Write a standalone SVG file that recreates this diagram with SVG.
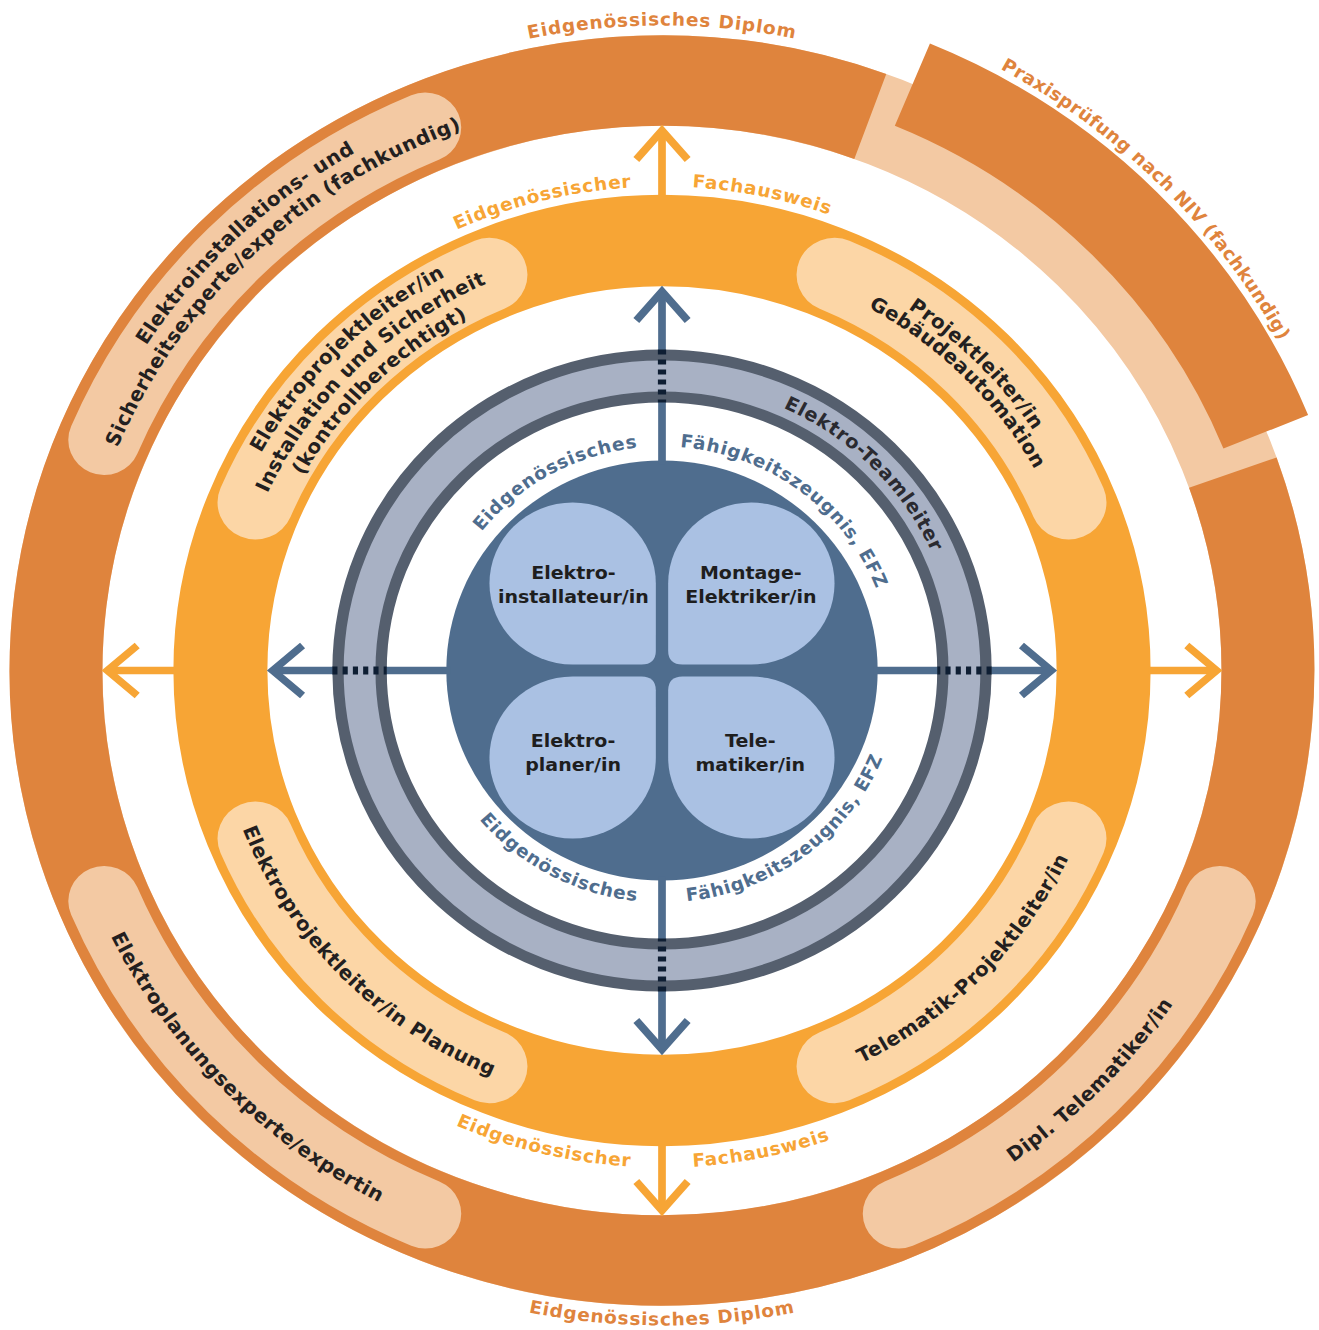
<svg xmlns="http://www.w3.org/2000/svg" xmlns:xlink="http://www.w3.org/1999/xlink" width="1319" height="1330" viewBox="0 0 1319 1330">
<style>
.t{font-family:"DejaVu Sans","Liberation Sans",sans-serif;font-weight:bold}
.pill{font-size:19.5px;fill:#231F20;letter-spacing:0.5px}
.lobe{font-size:18.5px;fill:#1E1E1E;text-anchor:middle}
.orng{font-size:18px;fill:#DF843D;letter-spacing:0.8px}
.prax{font-size:18px;fill:#DF843D;letter-spacing:0.4px}
.yorng{font-size:18px;fill:#F7A535;letter-spacing:0.8px}
.blu{font-size:18px;fill:#4F6D8E;letter-spacing:0.8px}
.team{font-size:19px;fill:#2A2A30;letter-spacing:0.8px}
.mid{text-anchor:middle}
.end{text-anchor:end}
.pillO{fill:none;stroke:#F3C9A3;stroke-width:70;stroke-linecap:round}
.pillY{fill:none;stroke:#FCD6A6;stroke-width:74;stroke-linecap:round}
.oarr{fill:none;stroke:#F7A535;stroke-width:7.5}
.barr{fill:none;stroke:#4F6D8E;stroke-width:7.5}
.dash{fill:none;stroke:#0E1E33;stroke-width:8;stroke-dasharray:5 5}
.lobeS{fill:#AAC1E3}
</style>
<defs>
<path id="lobeP" d="M -168 -87 A 81 81 0 0 1 -87 -168 A 81 81 0 0 1 -6 -87 L -6 -20 Q -6 -6 -20 -6 L -87 -6 A 81 81 0 0 1 -168 -87 Z"/>
<path id="tOuterTop" d="M -558.6 -322.5 A 645 645 0 0 1 558.6 -322.5"/>
<path id="tOuterBot" d="M -567.2 327.5 A 655 655 0 0 0 567.2 327.5"/>
<path id="tPraxis" d="M -177.5 -662.6 A 686 686 0 0 1 662.6 177.5"/>
<path id="tFachTL" d="M -484 0 A 484 484 0 0 1 -29.5 -483.1"/>
<path id="tFachTR" d="M 29.5 -483.1 A 484 484 0 0 1 484 0"/>
<path id="tFachBL" d="M -497 0 A 497 497 0 0 0 -30.3 496.1"/>
<path id="tFachBR" d="M 30.3 496.1 A 497 497 0 0 0 497 0"/>
<path id="tEfzTL" d="M -224 0 A 224 224 0 0 1 -23.4 -222.8"/>
<path id="tEfzTR" d="M 17.6 -223.3 A 224 224 0 0 1 220.6 38.9"/>
<path id="tEfzBL" d="M -232 0 A 232 232 0 0 0 -24.2 230.7"/>
<path id="tEfzBR" d="M 24.3 230.7 A 232 232 0 0 0 228.5 -40.3"/>
<path id="tTeam" d="M -74.5 -278.2 A 288 288 0 0 1 278.2 74.5"/>
<path id="tO1a" d="M -581.5 139.6 A 598 598 0 0 1 169.8 -573.4"/>
<path id="tO1b" d="M -559.1 134.2 A 575 575 0 0 1 163.3 -551.3"/>
<path id="tY1a" d="M -432.7 111.9 A 447 447 0 0 1 119.4 -430.7"/>
<path id="tY1b" d="M -409.5 105.9 A 423 423 0 0 1 113 -407.6"/>
<path id="tY1c" d="M -387.2 100.2 A 400 400 0 0 1 106.9 -385.4"/>
<path id="tY2a" d="M -112.3 -419.2 A 434 434 0 0 1 419.2 112.3"/>
<path id="tY2b" d="M -107.4 -400.8 A 415 415 0 0 1 400.8 107.4"/>
<path id="tY3" d="M -422.1 -117 A 438 438 0 0 0 109.7 424"/>
<path id="tO3" d="M -577.2 -160.1 A 599 599 0 0 0 150 579.9"/>
<path id="tY4" d="M -109.7 424 A 438 438 0 0 0 422.1 -117"/>
<path id="tO4" d="M -150 579.9 A 599 599 0 0 0 577.2 -160.1"/>
</defs>
<rect width="1319" height="1330" fill="#FFFFFF"/>
<g transform="translate(662 670.5) scale(1.027 1)">
  <g id="ring-diplom">
    <circle r="590" fill="none" stroke="#F3C9A3" stroke-width="90.5"/>
    <path d="M 555.8 -197.9 A 590 590 0 1 1 202.8 -554.1" fill="none" stroke="#DF843D" stroke-width="90.5"/>
    <text class="t orng mid"><textPath href="#tOuterTop" startOffset="50%">Eidgenössisches Diplom</textPath></text>
    <text class="t orng mid"><textPath href="#tOuterBot" startOffset="50%">Eidgenössisches Diplom</textPath></text>
  </g>
  <g id="band-praxis">
    <path d="M 243.8 -585.8 A 634.5 634.5 0 0 1 587.9 -238.7" fill="none" stroke="#DF843D" stroke-width="89"/>
    <text class="t prax mid"><textPath href="#tPraxis" startOffset="50%">Praxisprüfung nach NIV (fachkundig)</textPath></text>
  </g>
  <g id="ring-fachausweis">
    <circle r="430" fill="none" stroke="#F7A535" stroke-width="91.5"/>
    <text class="t yorng end"><textPath href="#tFachTL" startOffset="100%">Eidgenössischer</textPath></text>
    <text class="t yorng"><textPath href="#tFachTR" startOffset="0">Fachausweis</textPath></text>
    <text class="t yorng end"><textPath href="#tFachBL" startOffset="100%">Eidgenössischer</textPath></text>
    <text class="t yorng"><textPath href="#tFachBR" startOffset="0">Fachausweis</textPath></text>
  </g>
  <g id="ring-teamleiter">
    <circle r="294.5" fill="none" stroke="#555F6E" stroke-width="53"/>
    <circle r="294.5" fill="none" stroke="#A8B1C4" stroke-width="31"/>
    <text class="t team mid"><textPath href="#tTeam" startOffset="50%">Elektro-Teamleiter</textPath></text>
  </g>
  <g id="pill-sicherheitsexperte">
    <path class="pillO" d="M -543.1 -230.5 A 590 590 0 0 1 -230.5 -543.1"/>
    <text class="t pill mid"><textPath href="#tO1a" startOffset="50%">Elektroinstallations- und</textPath></text>
    <text class="t pill mid"><textPath href="#tO1b" startOffset="50%">Sicherheitsexperte/expertin (fachkundig)</textPath></text>
  </g>
  <g id="pill-planungsexperte">
    <path class="pillO" d="M -543.1 230.5 A 590 590 0 0 0 -230.5 543.1"/>
    <text class="t pill mid"><textPath href="#tO3" startOffset="50%">Elektroplanungsexperte/expertin</textPath></text>
  </g>
  <g id="pill-dipl-telematiker">
    <path class="pillO" d="M 543.1 230.5 A 590 590 0 0 1 230.5 543.1"/>
    <text class="t pill mid"><textPath href="#tO4" startOffset="50%">Dipl. Telematiker/in</textPath></text>
  </g>
  <g id="pill-epl-installation">
    <path class="pillY" d="M -395.8 -168 A 430 430 0 0 1 -168 -395.8"/>
    <text class="t pill mid"><textPath href="#tY1a" startOffset="50%">Elektroprojektleiter/in</textPath></text>
    <text class="t pill mid"><textPath href="#tY1b" startOffset="50%">Installation und Sicherheit</textPath></text>
    <text class="t pill mid"><textPath href="#tY1c" startOffset="50%">(kontrollberechtigt)</textPath></text>
  </g>
  <g id="pill-pl-gebaeudeautomation">
    <path class="pillY" d="M 168 -395.8 A 430 430 0 0 1 395.8 -168"/>
    <text class="t pill mid"><textPath href="#tY2a" startOffset="50%">Projektleiter/in</textPath></text>
    <text class="t pill mid"><textPath href="#tY2b" startOffset="50%">Gebäudeautomation</textPath></text>
  </g>
  <g id="pill-epl-planung">
    <path class="pillY" d="M -395.8 168 A 430 430 0 0 0 -168 395.8"/>
    <text class="t pill mid"><textPath href="#tY3" startOffset="50%">Elektroprojektleiter/in Planung</textPath></text>
  </g>
  <g id="pill-telematik-pl">
    <path class="pillY" d="M 395.8 168 A 430 430 0 0 1 168 395.8"/>
    <text class="t pill mid"><textPath href="#tY4" startOffset="50%">Telematik-Projektleiter/in</textPath></text>
  </g>
  <g id="core-efz">
    <circle r="210" fill="#4F6D8E"/>
    <text class="t blu end"><textPath href="#tEfzTL" startOffset="100%">Eidgenössisches</textPath></text>
    <text class="t blu"><textPath href="#tEfzTR" startOffset="0">Fähigkeitszeugnis, EFZ</textPath></text>
    <text class="t blu end"><textPath href="#tEfzBL" startOffset="100%">Eidgenössisches</textPath></text>
    <text class="t blu"><textPath href="#tEfzBR" startOffset="0">Fähigkeitszeugnis, EFZ</textPath></text>
  </g>
  <g id="lobe-elektroinstallateur">
    <use href="#lobeP" class="lobeS"/>
    <text class="t lobe" x="-86.3" y="-91.2">Elektro-</text>
    <text class="t lobe" x="-86.3" y="-67.8">installateur/in</text>
  </g>
  <g id="lobe-montage-elektriker">
    <use href="#lobeP" class="lobeS" transform="scale(-1 1)"/>
    <text class="t lobe" x="86.5" y="-91.2">Montage-</text>
    <text class="t lobe" x="86.5" y="-67.8">Elektriker/in</text>
  </g>
  <g id="lobe-elektroplaner">
    <use href="#lobeP" class="lobeS" transform="scale(1 -1)"/>
    <text class="t lobe" x="-86.6" y="76.2">Elektro-</text>
    <text class="t lobe" x="-86.6" y="100.2">planer/in</text>
  </g>
  <g id="lobe-telematiker">
    <use href="#lobeP" class="lobeS" transform="scale(-1 -1)"/>
    <text class="t lobe" x="86" y="76.2">Tele-</text>
    <text class="t lobe" x="86" y="100.2">matiker/in</text>
  </g>
  <g id="connectors">
    <g id="arrow-orange-up"><line class="oarr" x1="0" y1="-474" x2="0" y2="-538"/><polyline class="oarr" points="-25,-511 0,-540 25,-511"/></g>
    <g id="arrow-orange-right" transform="rotate(90)"><line class="oarr" x1="0" y1="-474" x2="0" y2="-538"/><polyline class="oarr" points="-25,-511 0,-540 25,-511"/></g>
    <g id="arrow-orange-down" transform="rotate(180)"><line class="oarr" x1="0" y1="-474" x2="0" y2="-538"/><polyline class="oarr" points="-25,-511 0,-540 25,-511"/></g>
    <g id="arrow-orange-left" transform="rotate(270)"><line class="oarr" x1="0" y1="-474" x2="0" y2="-538"/><polyline class="oarr" points="-25,-511 0,-540 25,-511"/></g>
    <g id="arrow-blue-up"><line class="barr" x1="0" y1="-206" x2="0" y2="-268.5"/><line class="barr" x1="0" y1="-320.5" x2="0" y2="-377"/><polyline class="barr" points="-25,-350 0,-379 25,-350"/><line class="dash" x1="0" y1="-321" x2="0" y2="-268"/></g>
    <g id="arrow-blue-right" transform="rotate(90)"><line class="barr" x1="0" y1="-206" x2="0" y2="-268.5"/><line class="barr" x1="0" y1="-320.5" x2="0" y2="-377"/><polyline class="barr" points="-25,-350 0,-379 25,-350"/><line class="dash" x1="0" y1="-321" x2="0" y2="-268"/></g>
    <g id="arrow-blue-down" transform="rotate(180)"><line class="barr" x1="0" y1="-206" x2="0" y2="-268.5"/><line class="barr" x1="0" y1="-320.5" x2="0" y2="-377"/><polyline class="barr" points="-25,-350 0,-379 25,-350"/><line class="dash" x1="0" y1="-321" x2="0" y2="-268"/></g>
    <g id="arrow-blue-left" transform="rotate(270)"><line class="barr" x1="0" y1="-206" x2="0" y2="-268.5"/><line class="barr" x1="0" y1="-320.5" x2="0" y2="-377"/><polyline class="barr" points="-25,-350 0,-379 25,-350"/><line class="dash" x1="0" y1="-321" x2="0" y2="-268"/></g>
  </g>
</g>
</svg>
